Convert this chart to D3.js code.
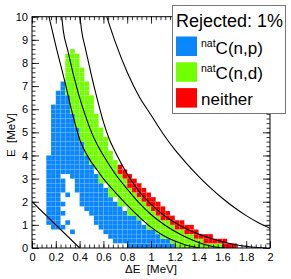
<!DOCTYPE html>
<html>
<head>
<meta charset="utf-8">
<script src="https://cdn.jsdelivr.net/npm/d3@7"></script>
<style>
  body { margin: 0; background: #fff; }
  svg { display: block; font-family: "Liberation Sans", Arial, Helvetica, sans-serif; }
</style>
</head>
<body>
<svg id="chart" width="291" height="279"></svg>
<script>

// histogram binning (MeV)
var binW = 0.04, binH = 0.2;

// filled bins, one run per row: [dE bin low edge, E from, E to]
var protonCells = [
  [0.12, 1.0, 4.0], [0.16, 0.8, 6.2], [0.20, 0.8, 6.8],
  [0.24, 0.8, 1.0], [0.24, 1.4, 1.6], [0.24, 1.8, 2.0], [0.24, 2.4, 3.0], [0.24, 3.2, 7.2],
  [0.28, 1.0, 1.2], [0.28, 2.2, 2.4], [0.28, 3.2, 6.6],
  [0.32, 0.6, 0.8], [0.32, 3.0, 5.8],
  [0.36, 2.4, 5.2], [0.40, 1.8, 4.6], [0.44, 1.6, 4.0], [0.48, 1.4, 3.6],
  [0.52, 1.0, 3.2], [0.56, 0.8, 2.8], [0.60, 0.6, 2.6], [0.64, 0.4, 2.2],
  [0.68, 0.2, 2.0], [0.72, 0.2, 1.8], [0.76, 0.2, 1.6], [0.80, 0.0, 1.4],
  [0.84, 0.0, 1.4], [0.88, 0.0, 1.2], [0.92, 0.0, 1.0], [0.96, 0.0, 0.8],
  [1.00, 0.0, 0.8], [1.04, 0.0, 0.6], [1.08, 0.0, 0.4], [1.12, 0.0, 0.4],
  [1.16, 0.0, 0.2]
];

var deuteronCells = [
  [0.28, 6.6, 8.4], [0.32, 5.8, 8.6], [0.36, 5.2, 8.4], [0.40, 4.6, 7.8],
  [0.44, 4.0, 7.2], [0.48, 3.6, 6.6], [0.52, 3.4, 5.8], [0.56, 2.8, 5.2],
  [0.60, 2.8, 4.8], [0.64, 2.2, 4.2], [0.68, 2.2, 3.8], [0.72, 1.8, 3.2],
  [0.76, 1.8, 3.0], [0.80, 1.4, 2.6], [0.84, 1.4, 2.4], [0.88, 1.2, 2.2],
  [0.92, 1.2, 2.0], [0.96, 0.8, 1.8], [1.00, 0.8, 1.6], [1.04, 0.6, 1.4],
  [1.08, 0.4, 1.2], [1.12, 0.4, 1.2], [1.16, 0.2, 1.0], [1.20, 0.0, 0.8],
  [1.24, 0.0, 0.8], [1.28, 0.0, 0.6], [1.32, 0.0, 0.6], [1.36, 0.0, 0.4],
  [1.40, 0.0, 0.4], [1.44, 0.0, 0.2], [1.48, 0.0, 0.2], [1.52, 0.0, 0.2],
  [1.56, 0.0, 0.2]
];

var neitherCells = [
  [0.72, 3.2, 3.6], [0.76, 3.0, 3.4], [0.80, 2.6, 3.2], [0.84, 2.4, 3.0],
  [0.88, 2.2, 2.8], [0.92, 2.0, 2.6], [0.96, 1.8, 2.4], [1.00, 1.6, 2.2],
  [1.04, 1.4, 2.0], [1.08, 1.2, 1.8], [1.12, 1.2, 1.6], [1.16, 1.0, 1.4],
  [1.20, 0.8, 1.2], [1.24, 0.8, 1.2], [1.28, 0.6, 1.0], [1.32, 0.6, 1.0],
  [1.36, 0.4, 0.8], [1.40, 0.4, 0.6], [1.44, 0.2, 0.6], [1.48, 0.2, 0.6],
  [1.52, 0.2, 0.4], [1.56, 0.2, 0.4], [1.60, 0.0, 0.4], [1.64, 0.0, 0.2],
  [1.68, 0.0, 0.2]
];

// cut lines: [dE, E]
var lineP = [[0.143,10],[0.2,8.75],[0.277,7.17],[0.333,5.95],[0.403,4.66],[0.471,3.94],[0.55,3.35],[0.6,3.0],[0.7,2.4],[0.8,1.85],[0.9,1.35],[1.0,0.9],[1.1,0.55],[1.2,0.3],[1.3,0.12],[1.41,0]];
var lineD = [[0.25,10],[0.263,9.4],[0.3,8.55],[0.35,7.45],[0.4,6.5],[0.45,5.7],[0.5,5.0],[0.55,4.45],[0.6,4.0],[0.7,3.2],[0.8,2.55],[0.9,1.95],[1.0,1.45],[1.1,1.05],[1.2,0.72],[1.3,0.45],[1.4,0.24],[1.5,0.09],[1.6,0]];
var lineT = [[0.403,10],[0.417,9.4],[0.45,8.6],[0.5,7.45],[0.55,6.4],[0.6,5.45],[0.65,4.7],[0.7,4.15],[0.8,3.2],[0.9,2.45],[1.0,1.9],[1.1,1.45],[1.2,1.1],[1.3,0.82],[1.4,0.6],[1.5,0.42],[1.6,0.27],[1.7,0.15],[1.8,0.07],[1.9,0.02],[1.97,0]];
var lineA = [[0.628,10],[0.7,8.9],[0.8,7.6],[0.9,6.55],[1.0,5.75],[1.1,4.95],[1.2,4.25],[1.3,3.65],[1.4,3.1],[1.5,2.6],[1.6,2.15],[1.7,1.75],[1.8,1.4],[1.9,1.1],[2.0,0.85]];
var lineLow = [[0,2],[0.4,0]];

var xTicks = [0, 0.2, 0.4, 0.6, 0.8, 1, 1.2, 1.4, 1.6, 1.8, 2];
var yTicks = [0, 1, 2, 3, 4, 5, 6, 7, 8, 9, 10];

var legendHeader = "Rejected: 1%";
var legendNames = ["C(n,p)", "C(n,d)", "neither"];
var legendSup = ["nat", "nat", ""];
var colors = ["#0a86ff", "#72ff00", "#ff0000"];

var svg = d3.select("#chart");

var x = d3.scaleLinear().domain([0, 2]).range([32, 270]);
var y = d3.scaleLinear().domain([0, 10]).range([248, 16.7]);

svg.append("clipPath").attr("id", "plotclip")
  .append("rect")
  .attr("x", x(0)).attr("y", y(10))
  .attr("width", x(2) - x(0)).attr("height", y(0) - y(10));

// split runs into single bins so the faint cell seams show
function toBins(runs) {
  var out = [];
  runs.forEach(function(r) {
    for (var e = r[1]; e < r[2] - 1e-6; e += binH) out.push([r[0], e]);
  });
  return out;
}

var cellsG = svg.append("g").attr("clip-path", "url(#plotclip)");
[protonCells, deuteronCells, neitherCells].forEach(function(cells, k) {
  cellsG.append("g").selectAll("rect")
    .data(toBins(cells))
    .join("rect")
    .attr("x", function(d) { return x(d[0]); })
    .attr("y", function(d) { return y(d[1] + binH); })
    .attr("width", function(d) { return x(d[0] + binW) - x(d[0]); })
    .attr("height", function(d) { return y(d[1]) - y(d[1] + binH); })
    .attr("fill", colors[k])
    .attr("stroke", "rgba(255,255,255,0.18)")
    .attr("stroke-width", 0.4);
});

var line = d3.line()
  .x(function(d) { return x(d[0]); })
  .y(function(d) { return y(d[1]); })
  .curve(d3.curveMonotoneX);

var linesG = svg.append("g").attr("clip-path", "url(#plotclip)");
[lineP, lineD, lineT, lineA, lineLow].forEach(function(pts) {
  linesG.append("path")
    .attr("d", line(pts))
    .attr("fill", "none")
    .attr("stroke", "#000")
    .attr("stroke-width", 1.1);
});

// frame
svg.append("rect")
  .attr("x", x(0)).attr("y", y(10))
  .attr("width", x(2) - x(0)).attr("height", y(0) - y(10))
  .attr("fill", "none").attr("stroke", "#000").attr("stroke-width", 1);

var xMinor = d3.range(0, 2.0001, 0.04);
var yMinor = d3.range(0, 10.0001, 0.2);

function addAxis(axis, tx, ty, labels) {
  var g = svg.append("g")
    .attr("transform", "translate(" + tx + "," + ty + ")")
    .call(axis);
  g.select(".domain").remove();
  g.selectAll("line").attr("stroke", "#000").attr("stroke-width", 0.8);
  g.selectAll("text")
    .attr("font-family", "Liberation Sans, Arial, sans-serif")
    .attr("font-size", 11)
    .attr("fill", "#000");
  if (!labels) g.selectAll("text").remove();
  return g;
}

var fmt = function(d) { return String(+d.toFixed(1)); };

addAxis(d3.axisBottom(x).tickValues(xMinor).tickSize(-3.5).tickFormat(""), 0, y(0), false);
addAxis(d3.axisBottom(x).tickValues(xTicks).tickSize(-7).tickPadding(5).tickFormat(fmt), 0, y(0), true);
addAxis(d3.axisTop(x).tickValues(xMinor).tickSize(-3.5).tickFormat(""), 0, y(10), false);
addAxis(d3.axisTop(x).tickValues(xTicks).tickSize(-7).tickFormat(""), 0, y(10), false);
addAxis(d3.axisLeft(y).tickValues(yMinor).tickSize(-3.5).tickFormat(""), x(0), 0, false);
addAxis(d3.axisLeft(y).tickValues(yTicks).tickSize(-7).tickPadding(4).tickFormat(fmt), x(0), 0, true);
addAxis(d3.axisRight(y).tickValues(yMinor).tickSize(-3.5).tickFormat(""), x(2), 0, false);
addAxis(d3.axisRight(y).tickValues(yTicks).tickSize(-7).tickFormat(""), x(2), 0, false);

// axis titles
svg.append("text")
  .attr("x", 151).attr("y", 273)
  .attr("text-anchor", "middle")
  .attr("font-size", 11.5)
  .attr("xml:space", "preserve")
  .text("\u0394E  [MeV]");

svg.append("text")
  .attr("transform", "translate(15,135) rotate(-90)")
  .attr("text-anchor", "middle")
  .attr("font-size", 11.5)
  .attr("xml:space", "preserve")
  .text("E  [MeV]");

// legend
var lg = svg.append("g");
lg.append("rect")
  .attr("x", 172.5).attr("y", 5.5)
  .attr("width", 113).attr("height", 108)
  .attr("fill", "#fff").attr("stroke", "#777").attr("stroke-width", 1);

lg.append("text")
  .attr("x", 176).attr("y", 26.5)
  .attr("font-size", 18)
  .text(legendHeader);

legendNames.forEach(function(name, i) {
  var top = 36.5 + i * 25.8;
  lg.append("rect")
    .attr("x", 176).attr("y", top)
    .attr("width", 21).attr("height", 19.5)
    .attr("fill", colors[i]);
  var t = lg.append("text")
    .attr("x", 201).attr("y", top + 17)
    .attr("font-size", 17);
  if (legendSup[i]) {
    t.append("tspan").attr("font-size", 10.5).attr("dy", -7).text(legendSup[i]);
    t.append("tspan").attr("dy", 7).text(name);
  } else {
    t.text(name);
  }
});

</script>
</body>
</html>
